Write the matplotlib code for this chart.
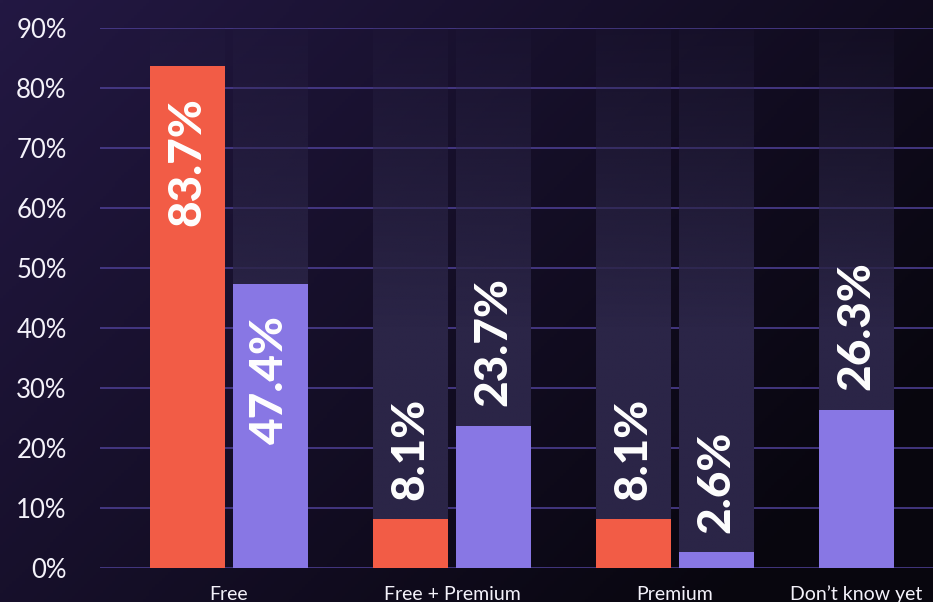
import numpy as np
import matplotlib
matplotlib.use("Agg")
import matplotlib.pyplot as plt
from matplotlib.colors import to_rgb

# survey answers, share of respondents (%)
categories = ["Free", "Free + Premium", "Premium", "Don\u2019t know yet"]
series_a = [83.7, 8.1, 8.1, None]
series_b = [47.4, 23.7, 2.6, 26.3]
yticks = [0, 10, 20, 30, 40, 50, 60, 70, 80, 90]

RED = "#f25c46"
PURPLE = "#8877e4"
TRACK = "#2b2547"
GRID = "#4b3d8f"
TEXT = "#f4f2fa"

fig = plt.figure(figsize=(9.33, 6.02), dpi=100)

# diagonal background gradient, purple top-left to near black bottom-right
bg = fig.add_axes([0, 0, 1, 1], zorder=-10)
gx, gy = np.meshgrid(np.linspace(0, 1, 300), np.linspace(0, 1, 200))
t = np.clip(0.7 * gx + 0.45 * gy, 0, 1)
c0 = np.array(to_rgb("#231843"))
c1 = np.array(to_rgb("#08060e"))
img = c0[None, None, :] * (1 - t[..., None]) + c1[None, None, :] * t[..., None]
bg.imshow(img, aspect="auto", extent=[0, 1, 0, 1], origin="upper")
bg.axis("off")

ax = fig.add_axes([100 / 933, 34 / 602, 833 / 933, 540 / 602])
ax.set_facecolor("none")

width = 0.336
offset = 0.186
ymax = 90

# track gradient: fades out towards the top
ty = np.linspace(0, ymax, 200)
alpha = np.clip(0.12 + 0.88 * (ymax - ty) / 50, 0, 1)
track = np.zeros((200, 2, 4))
track[..., :3] = to_rgb(TRACK)
track[..., 3] = alpha[:, None]

label_x = []
for i, cat in enumerate(categories):
    vals = [(v, col) for v, col in ((series_a[i], RED), (series_b[i], PURPLE)) if v is not None]
    slots = [i - offset, i + offset][:len(vals)]
    label_x.append(np.mean(slots))
    for x, (v, col) in zip(slots, vals):
        ax.imshow(track, extent=[x - width / 2, x + width / 2, 0, ymax],
                  origin="lower", aspect="auto", zorder=1, interpolation="bilinear")
        ax.bar(x, v, width=width, color=col, zorder=2, linewidth=0)
        if v > 40:
            ax.text(x, v - 5.3, f"{v}%", rotation=90, ha="center", va="top",
                    color="white", fontsize=33, fontfamily="Lato", fontweight="black", zorder=3)
        else:
            ax.text(x, v + 3.3, f"{v}%", rotation=90, ha="center", va="bottom",
                    color="white", fontsize=33, fontfamily="Lato", fontweight="black", zorder=3)

for cx, cat in zip(label_x, categories):
    ax.text(cx, -4.4, cat, ha="center", va="center", color=TEXT, fontsize=14,
            fontfamily="Lato", clip_on=False)

ax.set_xlim(-0.5785, 3.157)
ax.set_ylim(0, ymax)
ax.set_yticks(yticks)
ax.set_yticklabels([f"{v}%" for v in yticks], color=TEXT, fontsize=18.5,
                   fontfamily="Lato")
ax.tick_params(axis="y", length=0, pad=24)
ax.set_xticks([])
ax.grid(axis="y", color=GRID, linewidth=1.2, zorder=0)
ax.set_axisbelow(True)
for s in ax.spines.values():
    s.set_visible(False)

fig.savefig("out.png", dpi=100)
